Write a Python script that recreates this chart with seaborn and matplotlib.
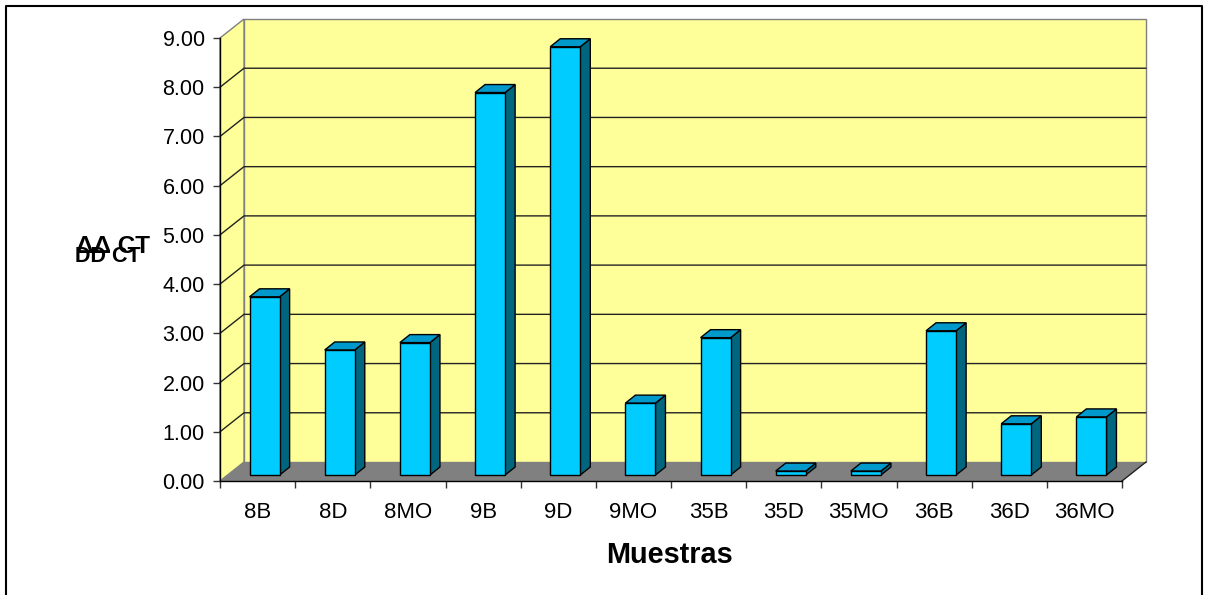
import seaborn as sns
import matplotlib.pyplot as plt
import matplotlib.transforms as mtransforms
from matplotlib.patches import Polygon, Rectangle
from matplotlib.lines import Line2D
from matplotlib.ticker import FormatStrFormatter, FixedLocator

# datos
muestras = ['8B', '8D', '8MO', '9B', '9D', '9MO', '35B', '35D', '35MO', '36B', '36D', '36MO']
ddct = [3.62, 2.54, 2.69, 7.77, 8.70, 1.46, 2.79, 0.08, 0.08, 2.93, 1.04, 1.18]

sns.set_style('white')
plt.rcParams['font.family'] = ['Liberation Sans', 'DejaVu Sans']
plt.rcParams['text.color'] = 'black'
plt.rcParams['xtick.color'] = 'black'
plt.rcParams['ytick.color'] = 'black'

W, H = 1207, 595
fig = plt.figure(figsize=(W / 100, H / 100), dpi=100)
# eje frontal: x 220..1122 px, y 481..38 px
ax = fig.add_axes([220 / W, (H - 481) / H, (1122 - 220) / W, (481 - 38) / H])
ax.set_facecolor('none')

sns.barplot(x=muestras, y=ddct, color='#00CCFF', saturation=1, width=0.4,
            edgecolor='black', linewidth=1, ax=ax, zorder=5)
ax.set_xlim(-0.5, 11.5)
ax.set_ylim(0, 9)

# profundidad en pixeles
wall_dx, wall_dy = 24, 19
bar_dx, bar_dy = 7, 6
dep_dx, dep_dy = 10, 8
ident = mtransforms.IdentityTransform()


def disp(x, y, dx=0, dy=0):
    px, py = ax.transData.transform((x, y))
    return (px + dx, py + dy)


# pared del fondo
ax.add_patch(Polygon([disp(-0.5, 0, wall_dx, wall_dy), disp(11.5, 0, wall_dx, wall_dy),
                      disp(11.5, 9, wall_dx, wall_dy), disp(-0.5, 9, wall_dx, wall_dy)],
                     closed=True, transform=ident, facecolor='#FFFF99', edgecolor='#808080',
                     linewidth=1, zorder=0, clip_on=False))
# pared lateral
ax.add_patch(Polygon([disp(-0.5, 0), disp(-0.5, 0, wall_dx, wall_dy),
                      disp(-0.5, 9, wall_dx, wall_dy), disp(-0.5, 9)],
                     closed=True, transform=ident, facecolor='#FFFF99', edgecolor='#808080',
                     linewidth=1, zorder=0, clip_on=False))
# lineas de division
for v in range(1, 9):
    a = disp(-0.5, v)
    b = disp(-0.5, v, wall_dx, wall_dy)
    c = disp(11.5, v, wall_dx, wall_dy)
    ax.add_line(Line2D([a[0], b[0], c[0]], [a[1], b[1], c[1]], transform=ident,
                       color='#222222', linewidth=1, zorder=1, clip_on=False))
# suelo
ax.add_patch(Polygon([disp(-0.5, 0), disp(11.5, 0), disp(11.5, 0, wall_dx, wall_dy),
                      disp(-0.5, 0, wall_dx, wall_dy)],
                     closed=True, transform=ident, facecolor='#808080', edgecolor='none',
                     zorder=2, clip_on=False))
fr = disp(11.5, 0)
bk = disp(11.5, 0, wall_dx, wall_dy)
ax.add_line(Line2D([fr[0], bk[0]], [fr[1], bk[1]], transform=ident, color='#222222',
                   linewidth=1, zorder=2, clip_on=False))

# barras 3D
front = mtransforms.offset_copy(ax.transData, fig=fig, x=bar_dx, y=bar_dy, units='dots')
for p in ax.patches[:]:
    if not isinstance(p, Rectangle):
        continue
    p.set_transform(front)
    x0, w, h = p.get_x(), p.get_width(), p.get_height()
    fl = disp(x0, h, bar_dx, bar_dy)
    frt = disp(x0 + w, h, bar_dx, bar_dy)
    frb = disp(x0 + w, 0, bar_dx, bar_dy)
    side = [frb, frt, (frt[0] + dep_dx, frt[1] + dep_dy), (frb[0] + dep_dx, frb[1] + dep_dy)]
    top = [fl, frt, (frt[0] + dep_dx, frt[1] + dep_dy), (fl[0] + dep_dx, fl[1] + dep_dy)]
    ax.add_patch(Polygon(side, closed=True, transform=ident, facecolor='#006680',
                         edgecolor='black', linewidth=1, zorder=4, clip_on=False))
    ax.add_patch(Polygon(top, closed=True, transform=ident, facecolor='#0099CC',
                         edgecolor='black', linewidth=1, zorder=4, clip_on=False))

# ejes
for s in ['top', 'right']:
    ax.spines[s].set_visible(False)
for s in ['left', 'bottom']:
    ax.spines[s].set_color('black')
    ax.spines[s].set_linewidth(1)
    ax.spines[s].set_zorder(6)
ax.yaxis.set_major_locator(FixedLocator(range(0, 10)))
ax.yaxis.set_major_formatter(FormatStrFormatter('%.2f'))
ax.tick_params(axis='y', left=True, length=5, width=1, color='#333333', pad=6,
               labelsize=15.5, labelcolor='black')
ax.xaxis.set_minor_locator(FixedLocator([i - 0.5 for i in range(13)]))
ax.tick_params(axis='x', which='major', bottom=True, length=0, pad=15,
               labelsize=16, labelcolor='black')
ax.tick_params(axis='x', which='minor', bottom=True, length=5, width=1, color='#333333')
ax.set_xlabel('')
ax.set_ylabel('')

fig.text(669 / W, 1 - 563 / H, 'Muestras', ha='center', va='baseline',
         fontsize=20.8, fontweight='bold', color='black')
# la etiqueta del eje y sale sobreimpresa en el original
fig.text(113 / W, 1 - 253 / H, 'ΔΔ CT', ha='center', va='baseline',
         fontsize=17.5, fontweight='bold', color='black')
fig.text(108 / W, 1 - 262 / H, 'DD CT', ha='center', va='baseline',
         fontsize=15.5, fontweight='bold', color='black')

# marco exterior
fig.add_artist(Line2D([6 / W, 6 / W, 1202 / W, 1202 / W], [-0.02, 1 - 5.5 / H, 1 - 5.5 / H, -0.02],
                      transform=fig.transFigure, color='black', linewidth=1.5))

fig.savefig('out.png', dpi=100)
